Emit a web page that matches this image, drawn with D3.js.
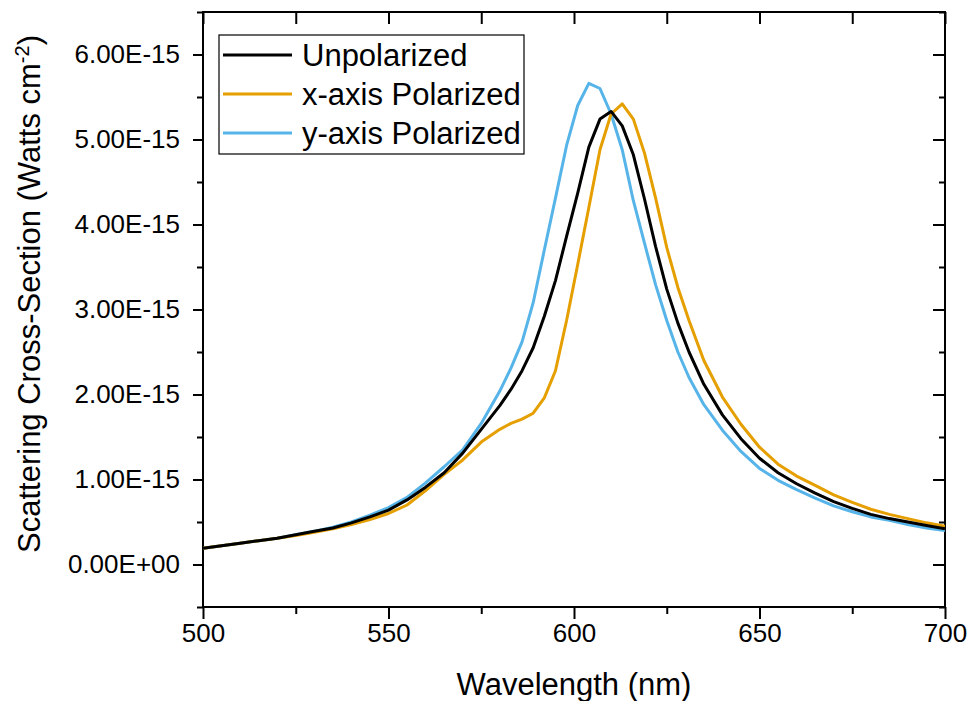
<!DOCTYPE html>
<html>
<head>
<meta charset="utf-8">
<script src="https://cdn.jsdelivr.net/npm/d3@7"></script>
<style>
  body { margin: 0; background: #fff; }
  svg { font-family: Arial, "Liberation Sans", sans-serif; }
</style>
</head>
<body>
<div id="container"></div>
<script>
// wavelength (nm)
const wavelengths = [500, 505, 510, 515, 520, 525, 530, 535, 540, 545, 550, 555, 560, 565, 570, 575,
    580, 583, 586, 589, 592, 595, 598, 601, 604, 607, 610, 613, 616, 619, 622, 625, 628, 631,
    635, 640, 645, 650, 655, 660, 665, 670, 675, 680, 685, 690, 695, 700];

// scattering cross-section, units of 1e-15
const unpolarized = [0.19, 0.22, 0.25, 0.28, 0.31, 0.35, 0.39, 0.43, 0.49, 0.56, 0.64, 0.76, 0.91, 1.08, 1.31, 1.59,
    1.87, 2.06, 2.28, 2.55, 2.92, 3.34, 3.86, 4.37, 4.91, 5.24, 5.33, 5.16, 4.82, 4.30, 3.74, 3.24, 2.84, 2.50,
    2.12, 1.76, 1.48, 1.25, 1.08, 0.95, 0.84, 0.74, 0.66, 0.59, 0.54, 0.50, 0.46, 0.42];

const xPolarized = [0.19, 0.22, 0.25, 0.28, 0.31, 0.34, 0.38, 0.42, 0.47, 0.53, 0.60, 0.70, 0.87, 1.06, 1.23, 1.44,
    1.59, 1.66, 1.71, 1.78, 1.96, 2.28, 2.87, 3.53, 4.20, 4.88, 5.30, 5.42, 5.24, 4.84, 4.31, 3.73, 3.26, 2.87,
    2.40, 1.97, 1.65, 1.38, 1.18, 1.04, 0.93, 0.82, 0.73, 0.65, 0.59, 0.54, 0.49, 0.45];

const yPolarized = [0.19, 0.22, 0.25, 0.28, 0.31, 0.35, 0.39, 0.44, 0.50, 0.58, 0.67, 0.79, 0.96, 1.15, 1.35, 1.66,
    2.04, 2.31, 2.62, 3.08, 3.70, 4.31, 4.93, 5.40, 5.66, 5.60, 5.30, 4.88, 4.28, 3.78, 3.29, 2.87, 2.50, 2.20,
    1.88, 1.58, 1.33, 1.13, 0.99, 0.88, 0.78, 0.69, 0.62, 0.56, 0.52, 0.47, 0.43, 0.40];

const seriesNames = ['Unpolarized', 'x-axis Polarized', 'y-axis Polarized'];
const seriesColors = ['#000000', '#E69F00', '#56B4E9'];

const yTickValues = [0, 1, 2, 3, 4, 5, 6];
const xTickValues = [500, 550, 600, 650, 700];

const width = 970, height = 701;
const margin = { top: 12, right: 25, bottom: 94, left: 203 };
const innerW = width - margin.left - margin.right;
const innerH = height - margin.top - margin.bottom;

const svg = d3.select('#container')
    .append('svg')
    .attr('width', width)
    .attr('height', height);

const g = svg.append('g')
    .attr('transform', `translate(${margin.left}, ${margin.top})`);

const x = d3.scaleLinear().domain([500, 700]).range([0, innerW]);
const y = d3.scaleLinear().domain([-0.5, 6.5]).range([innerH, 0]);

const xMinor = d3.range(525, 700, 50);
const yMinor = d3.range(-0.5, 6.6, 1);

const styleAxis = sel => {
    sel.select('.domain').remove();
    sel.selectAll('line').attr('stroke', '#000').attr('stroke-width', 2);
    sel.selectAll('text').attr('fill', '#000');
};

// bottom
g.append('g')
    .attr('transform', `translate(0, ${innerH})`)
    .call(d3.axisBottom(x).tickValues(xTickValues).tickSize(12).tickPadding(5).tickFormat(d3.format('d')))
    .call(styleAxis)
    .call(s => s.selectAll('text').attr('font-size', 26));
g.append('g')
    .attr('transform', `translate(0, ${innerH})`)
    .call(d3.axisBottom(x).tickValues(xMinor).tickSize(7).tickFormat(''))
    .call(styleAxis);

// top
g.append('g')
    .call(d3.axisBottom(x).tickValues(xTickValues).tickSize(12).tickFormat(''))
    .call(styleAxis);
g.append('g')
    .call(d3.axisBottom(x).tickValues(xMinor).tickSize(12).tickFormat(''))
    .call(styleAxis);

// left
const fmtY = d => d === 0 ? '0.00E+00' : d.toFixed(2) + 'E-15';
g.append('g')
    .call(d3.axisLeft(y).tickValues(yTickValues).tickSize(10).tickPadding(13).tickFormat(fmtY))
    .call(styleAxis)
    .call(s => s.selectAll('text').attr('font-size', 26));
g.append('g')
    .call(d3.axisLeft(y).tickValues(yMinor).tickSize(6).tickFormat(''))
    .call(styleAxis);

// right
g.append('g')
    .attr('transform', `translate(${innerW}, 0)`)
    .call(d3.axisLeft(y).tickValues(yTickValues).tickSize(12).tickFormat(''))
    .call(styleAxis);
g.append('g')
    .attr('transform', `translate(${innerW}, 0)`)
    .call(d3.axisLeft(y).tickValues(yMinor).tickSize(6).tickFormat(''))
    .call(styleAxis);

// frame
g.append('rect')
    .attr('width', innerW)
    .attr('height', innerH)
    .attr('fill', 'none')
    .attr('stroke', '#000')
    .attr('stroke-width', 2);

// lines
const seriesData = [unpolarized, xPolarized, yPolarized];
const line = d3.line()
    .x((d, i) => x(wavelengths[i]))
    .y(d => y(d));

g.append('clipPath').attr('id', 'clip')
    .append('rect').attr('width', innerW).attr('height', innerH);

const drawOrder = [2, 1, 0];
drawOrder.forEach(k => {
    g.append('path')
        .datum(seriesData[k])
        .attr('fill', 'none')
        .attr('stroke', seriesColors[k])
        .attr('stroke-width', 3)
        .attr('stroke-linejoin', 'round')
        .attr('clip-path', 'url(#clip)')
        .attr('d', line);
});

// legend
const legend = g.append('g').attr('transform', 'translate(16, 23)');
legend.append('rect')
    .attr('width', 305)
    .attr('height', 119)
    .attr('fill', '#fff')
    .attr('stroke', '#000')
    .attr('stroke-width', 1.2);

seriesNames.forEach((name, i) => {
    const row = legend.append('g').attr('transform', `translate(0, ${20 + i * 39})`);
    row.append('line')
        .attr('x1', 4).attr('x2', 73)
        .attr('stroke', seriesColors[i])
        .attr('stroke-width', 3);
    row.append('text')
        .attr('x', 83)
        .attr('dy', '0.35em')
        .attr('font-size', 31)
        .text(name);
});

// axis titles
svg.append('text')
    .attr('x', margin.left + innerW / 2)
    .attr('y', 695)
    .attr('text-anchor', 'middle')
    .attr('font-size', 31)
    .text('Wavelength (nm)');

const yTitle = svg.append('text')
    .attr('transform', `translate(40, 294) rotate(-90)`)
    .attr('text-anchor', 'middle')
    .attr('font-size', 31);
yTitle.append('tspan').text('Scattering Cross-Section (Watts cm');
yTitle.append('tspan').attr('baseline-shift', 'super').attr('font-size', 20).text('-2');
yTitle.append('tspan').text(')');
</script>
</body>
</html>
